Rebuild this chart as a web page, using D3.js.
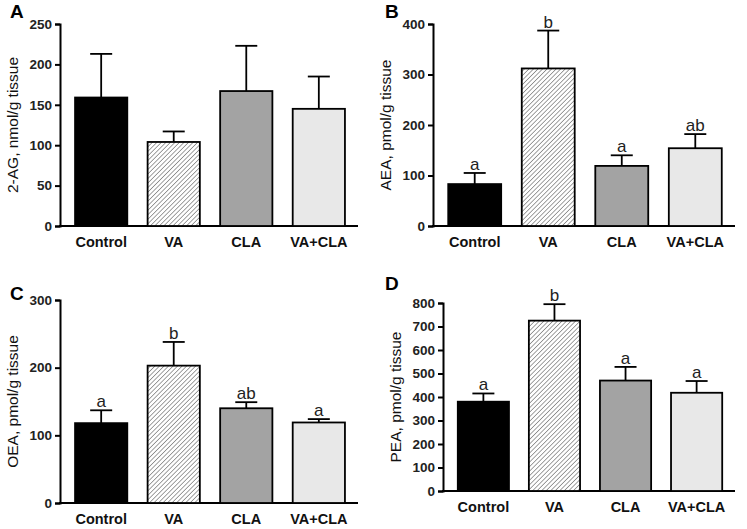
<!DOCTYPE html>
<html>
<head>
<meta charset="utf-8">
<script src="https://d3js.org/d3.v7.min.js"></script>
<style>
body{margin:0;background:#fff;font-family:"Liberation Sans",Arial,sans-serif;}
</style>
</head>
<body>
<svg id="chart" width="747" height="529"></svg>
<script>
var groups = ["Control", "VA", "CLA", "VA+CLA"];
var fills = ["#000", "url(#hatch)", "#a3a3a3", "#e8e8e8"];

var agMean = [159, 104, 167, 145], agErr = [54, 13, 56, 40];
var aeaMean = [83, 312, 119, 154], aeaErr = [22, 75, 21, 28];
var oeaMean = [118, 203, 140, 119], oeaErr = [19, 35, 9, 5];
var peaMean = [380, 725, 470, 418], peaErr = [35, 70, 58, 50];

var aeaLetters = ["a", "b", "a", "ab"];
var oeaLetters = ["a", "b", "ab", "a"];
var peaLetters = ["a", "b", "a", "a"];

var panels = [
  {tag:"A", title:"2-AG, nmol/g tissue", mean:agMean, err:agErr, letters:null, max:250, step:50, l:60, r:358, t:24, b:226, tx:10, ty:18},
  {tag:"B", title:"AEA, pmol/g tissue", mean:aeaMean, err:aeaErr, letters:aeaLetters, max:400, step:100, l:433, r:735, t:24, b:226, tx:385, ty:18},
  {tag:"C", title:"OEA, pmol/g tissue", mean:oeaMean, err:oeaErr, letters:oeaLetters, max:300, step:100, l:60, r:358, t:300, b:503, tx:10, ty:300},
  {tag:"D", title:"PEA, pmol/g tissue", mean:peaMean, err:peaErr, letters:peaLetters, max:800, step:100, l:443, r:735, t:303, b:491, tx:385, ty:290}
];

var svg = d3.select("#chart");
var pat = svg.append("defs").append("pattern")
  .attr("id", "hatch").attr("patternUnits", "userSpaceOnUse")
  .attr("width", 3.2).attr("height", 3.2).attr("patternTransform", "rotate(45)");
pat.append("rect").attr("width", 3.2).attr("height", 3.2).attr("fill", "#fff");
pat.append("line").attr("x1", 0).attr("y1", 0).attr("x2", 0).attr("y2", 3.2)
  .attr("stroke", "#444").attr("stroke-width", 1);

panels.forEach(function(p){
  var g = svg.append("g");
  var x = d3.scaleBand().domain(groups).range([p.l + 2, p.r]).paddingInner(0.28).paddingOuter(0.18);
  var y = d3.scaleLinear().domain([0, p.max]).range([p.b, p.t]);

  var ya = g.append("g").attr("transform", "translate(" + p.l + ",0)")
    .call(d3.axisLeft(y).tickValues(d3.range(0, p.max + 1, p.step)).tickSizeOuter(0).tickSize(5));
  ya.selectAll("text").style("font-size", "13.5px").style("font-weight", "bold").attr("fill", "#222");
  ya.select(".domain").attr("stroke-width", 2);
  ya.selectAll(".tick line").attr("stroke-width", 2);

  var xa = g.append("g").attr("transform", "translate(0," + p.b + ")")
    .call(d3.axisBottom(x).tickSize(0).tickSizeOuter(0));
  xa.select(".domain").attr("d", "M" + (p.l - 1) + ",0H" + p.r).attr("stroke-width", 2);
  xa.selectAll("text").attr("dy", "1.25em").style("font-size", "14.5px").style("font-weight", "bold").attr("fill", "#111");

  groups.forEach(function(c, i){
    var x0 = x(c), w = x.bandwidth(), cx = x0 + w / 2;
    var top = y(p.mean[i] + p.err[i]);
    g.append("line").attr("x1", cx).attr("x2", cx).attr("y1", y(p.mean[i])).attr("y2", top)
      .attr("stroke", "#000").attr("stroke-width", 1.8);
    g.append("line").attr("x1", cx - 11).attr("x2", cx + 11).attr("y1", top).attr("y2", top)
      .attr("stroke", "#000").attr("stroke-width", 1.8);
    g.append("rect").attr("x", x0).attr("y", y(p.mean[i])).attr("width", w)
      .attr("height", p.b - y(p.mean[i])).attr("fill", fills[i])
      .attr("stroke", "#000").attr("stroke-width", 1.8);
    if (p.letters) {
      g.append("text").attr("x", cx).attr("y", top - 3).attr("text-anchor", "middle")
        .style("font-size", "17px").attr("fill", "#222").text(p.letters[i]);
    }
  });

  g.append("text").attr("transform", "translate(" + (p.l - 42) + "," + ((p.t + p.b) / 2) + ") rotate(-90)")
    .attr("text-anchor", "middle").style("font-size", "15.5px").attr("fill", "#111").text(p.title);
  g.append("text").attr("x", p.tx).attr("y", p.ty).style("font-size", "19px")
    .style("font-weight", "bold").text(p.tag);
});
</script>
</body>
</html>
